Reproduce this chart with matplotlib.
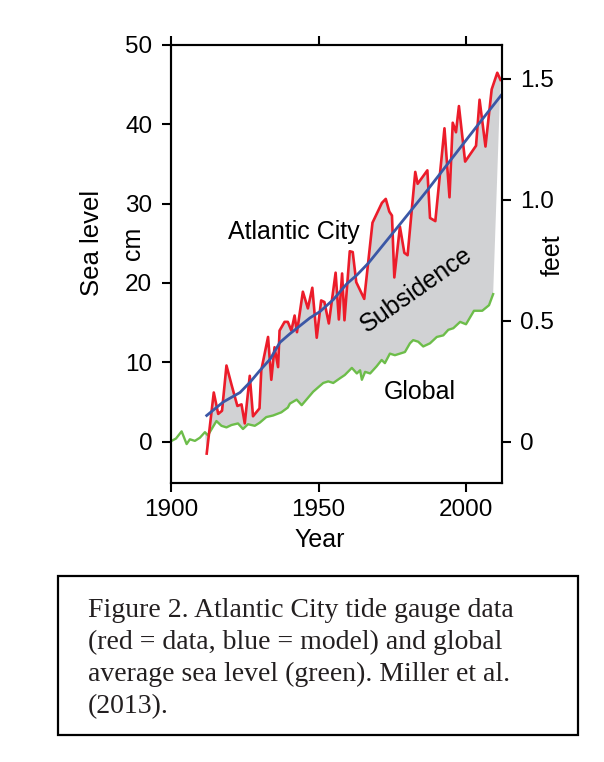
import matplotlib
matplotlib.use('Agg')
import matplotlib.pyplot as plt
from matplotlib.patches import Rectangle
import numpy as np

# ---- data ----
red_years = [1912.1, 1914.5, 1916.0, 1917.3, 1918.8, 1920.5, 1922.5, 1923.9, 1925.0, 1926.7,
             1927.8, 1930.0, 1930.6, 1932.9, 1934.0, 1935.1, 1936.3, 1936.8, 1938.5, 1939.6,
             1940.8, 1941.9, 1942.7, 1944.7, 1946.4, 1947.9, 1949.4, 1950.9, 1952.0, 1953.5,
             1955.8, 1956.9, 1958.0, 1958.8, 1960.6, 1961.6, 1962.8, 1965.5, 1968.3, 1971.5,
             1972.8, 1974.0, 1974.9, 1975.7, 1977.6, 1979.1, 1980.2, 1982.8, 1983.6, 1986.9,
             1987.8, 1989.6, 1992.7, 1994.4, 1995.5, 1996.6, 1997.6, 1999.7, 2003.4, 2004.6,
             2006.6, 2008.7, 2010.6, 2011.7]
red_cm = [-1.5, 6.2, 3.5, 3.9, 9.6, 7.2, 4.5, 4.7, 2.3, 8.3,
          3.2, 4.2, 9.0, 13.2, 7.8, 11.9, 9.4, 14.0, 15.1, 15.1,
          14.0, 15.9, 13.8, 18.9, 16.8, 19.4, 13.1, 17.8, 17.6, 14.9,
          21.3, 15.4, 21.2, 15.3, 24.0, 23.9, 20.1, 18.0, 27.6, 30.1,
          30.6, 29.0, 28.5, 20.7, 27.1, 23.8, 23.5, 34.0, 32.5, 34.2,
          28.2, 27.8, 39.5, 30.8, 40.2, 39.0, 42.3, 35.3, 37.3, 43.1,
          37.2, 44.4, 46.5, 45.6]

model_years = [1912.1, 1917.7, 1923.4, 1926.8, 1930.2, 1933.6, 1936.9, 1940.3, 1943.7, 1947.1,
               1950.5, 1955.0, 1959.6, 1963.0, 1966.9, 1977.6, 1986.7, 1994.6, 2004.4, 2012.0]
model_cm = [3.3, 5.0, 6.2, 7.5, 9.0, 10.4, 12.5, 13.6, 14.6, 15.6,
            16.4, 17.9, 19.9, 21.0, 22.5, 27.4, 31.6, 35.4, 40.1, 43.7]

global_years = [1900.2, 1901.7, 1903.6, 1905.3, 1906.4, 1908.1, 1909.8, 1911.5, 1912.5, 1915.4,
                1917.1, 1918.8, 1920.5, 1922.7, 1924.4, 1926.1, 1928.4, 1930.1, 1932.3, 1934.6,
                1937.4, 1939.6, 1940.3, 1942.6, 1944.3, 1948.2, 1951.6, 1953.3, 1955.0, 1957.3,
                1958.9, 1961.3, 1963.0, 1964.1, 1964.7, 1965.8, 1967.5, 1969.7, 1971.4, 1972.5,
                1974.2, 1975.9, 1977.6, 1979.3, 1981.0, 1982.1, 1983.8, 1985.5, 1987.8, 1990.1,
                1992.3, 1994.0, 1995.7, 1998.0, 2000.0, 2002.7, 2005.5, 2007.8, 2009.2]
global_cm = [0.1, 0.4, 1.3, -0.3, 0.3, 0.1, 0.5, 1.2, 0.8, 2.6,
             2.0, 1.8, 2.1, 2.3, 1.6, 2.2, 2.0, 2.4, 3.1, 3.3,
             3.7, 4.3, 4.8, 5.3, 4.6, 6.3, 7.4, 7.6, 7.4, 8.0,
             8.4, 9.3, 8.6, 9.0, 7.8, 8.8, 8.6, 9.5, 10.3, 9.9,
             11.1, 10.9, 11.1, 11.3, 12.4, 12.8, 12.6, 12.0, 12.4, 13.2,
             13.4, 14.1, 14.3, 15.1, 14.8, 16.5, 16.5, 17.2, 18.6]

cm_ticks = [0, 10, 20, 30, 40, 50]
feet_ticks = [0, 0.5, 1.0, 1.5]
feet_labels = ['0', '0.5', '1.0', '1.5']
year_ticks = [1900, 1950, 2000]
CM_PER_FT = 30.48

caption_lines = ["Figure 2. Atlantic City tide gauge data",
                 "(red = data, blue = model) and global",
                 "average sea level (green). Miller et al.",
                 "(2013)."]

# ---- styling ----
SANS = ['Liberation Sans', 'DejaVu Sans']
SERIF = ['Liberation Serif', 'DejaVu Serif']
plt.rcParams['font.family'] = SANS
RED = '#ec1c2a'
BLUE = '#3b57a6'
GREEN = '#6dbd4a'
GREY = '#d1d2d4'

W, H = 604, 762
fig = plt.figure(figsize=(W / 100, H / 100), dpi=100)


def fx(px):
    return px / W


def fy(py):
    return 1 - py / H


x0, x1, y0, y1 = 171, 501.7, 44.5, 482.7
ax = fig.add_axes([fx(x0), fy(y1), (x1 - x0) / W, (y1 - y0) / H])
ymin, ymax = -5.17, 50.06
ax.set_xlim(1900, 2012.1)
ax.set_ylim(ymin, ymax)

# grey "subsidence" region between local data and global curve
g_years = np.array(global_years)
g_cm = np.array(global_cm)
mask = g_years >= 1911.5
poly_x = np.concatenate([red_years, g_years[mask][::-1]])
poly_y = np.concatenate([red_cm, g_cm[mask][::-1]])
ax.fill(poly_x, poly_y, color=GREY, lw=0, zorder=1)

ax.plot(global_years, global_cm, color=GREEN, lw=1.7, zorder=2)
ax.plot(red_years, red_cm, color=RED, lw=1.9, zorder=3)
ax.plot(model_years, model_cm, color=BLUE, lw=2.0, zorder=4)

ax.set_xticks(year_ticks)
ax.set_yticks(cm_ticks)
ax.tick_params(axis='both', direction='out', length=6.5, width=1.5, labelsize=17.5,
               top=True, labeltop=False)
ax.tick_params(axis='y', pad=7)
ax.tick_params(axis='x', pad=5)
for s in ax.spines.values():
    s.set_linewidth(1.5)

ax2 = ax.twinx()
ax2.set_ylim(ymin / CM_PER_FT, ymax / CM_PER_FT)
ax2.set_yticks(feet_ticks)
ax2.set_yticklabels(feet_labels)
ax2.tick_params(axis='y', direction='out', length=6.5, width=1.5, labelsize=17.5, pad=7)
for s in ax2.spines.values():
    s.set_linewidth(1.5)

ax.text(1941.7, 26.4, 'Atlantic City', fontsize=18, ha='center', va='center', zorder=5)
ax.text(1983.3, 19.2, 'Subsidence', fontsize=18, ha='center', va='center',
        rotation=35, rotation_mode='anchor', zorder=5)
ax.text(1984.4, 6.3, 'Global', fontsize=18, ha='center', va='center', zorder=5)

# axis labels
fig.text(fx(320), fy(540), 'Year', fontsize=18, ha='center', va='center')
fig.text(fx(92), fy(243), 'Sea level', fontsize=18.5, ha='center', va='center', rotation=90)
fig.text(fx(133), fy(243), 'cm', fontsize=18, ha='center', va='center', rotation=90)
fig.text(fx(553), fy(255), 'feet', fontsize=18, ha='center', va='center', rotation=90)

# caption box
fig.patches.append(Rectangle((fx(58), fy(735)), (578 - 58) / W, (735 - 576) / H,
                             transform=fig.transFigure, fill=False, lw=1.6,
                             edgecolor='black'))
baselines = [617, 649, 681, 713]
for line, b in zip(caption_lines, baselines):
    fig.text(fx(88), fy(b), line, fontsize=20, family=SERIF, ha='left', va='baseline',
             color='#231f20')

fig.savefig('out.png', dpi=100)
